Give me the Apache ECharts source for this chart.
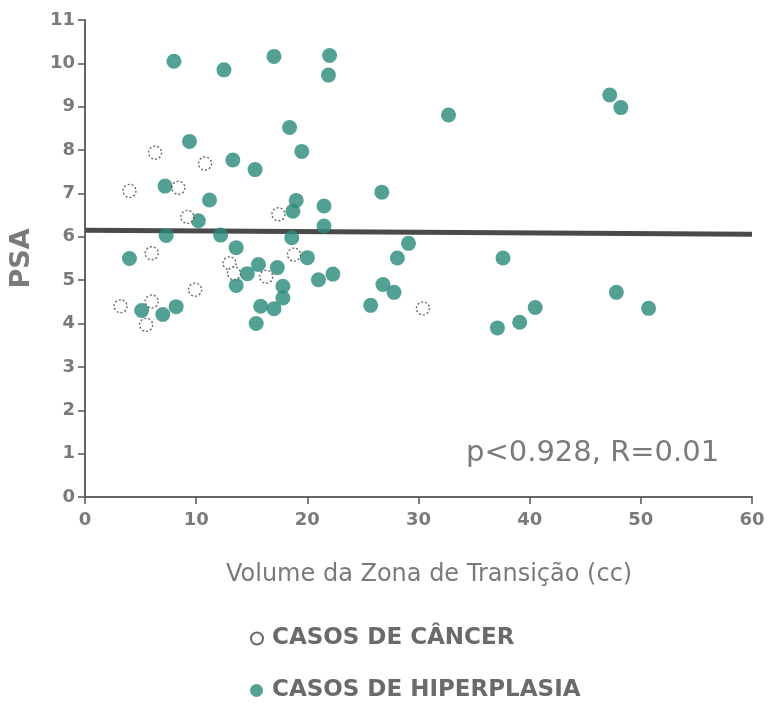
<!DOCTYPE html>
<html><head><meta charset="utf-8">
<script src="https://cdn.jsdelivr.net/npm/echarts@6/dist/echarts.min.js"></script>
<style>html,body{margin:0;padding:0;background:#fff}#c{width:770px;height:707px}</style>
</head><body><div id="c"></div>
<script>
// Hiperplasia (filled) : [volume cc, PSA]
const hiperplasiaX = [8.0,12.5,17.0,22.0,21.9,32.7,47.2,48.2,9.4,18.4,19.5,13.3,15.3,7.2,11.2,26.7,19.0,18.7,21.5,10.2,7.3,12.2,18.6,21.5,29.1,4.0,13.6,20.0,15.6,17.3,14.6,13.6,17.8,17.8,21.0,22.3,28.1,37.6,26.8,27.8,25.7,15.8,17.0,15.4,5.1,7.0,8.2,37.1,39.1,40.5,47.8,50.7];
const hiperplasiaY = [10.05,9.85,10.16,10.18,9.73,8.81,9.27,8.98,8.20,8.52,7.97,7.77,7.55,7.17,6.85,7.03,6.84,6.59,6.71,6.37,6.03,6.04,5.98,6.25,5.85,5.50,5.75,5.52,5.36,5.29,5.15,4.88,4.86,4.59,5.01,5.14,5.51,5.51,4.90,4.72,4.42,4.40,4.34,4.00,4.30,4.21,4.39,3.90,4.03,4.37,4.72,4.35];
// Câncer (hollow)
const cancerX = [6.3,10.8,4.0,8.4,9.2,17.4,6.0,18.8,13.0,13.4,16.3,9.9,3.2,6.0,5.5,30.4];
const cancerY = [7.94,7.69,7.06,7.13,6.46,6.52,5.62,5.59,5.39,5.16,5.08,4.78,4.40,4.51,3.97,4.35];
// Regression line endpoints
const regX = [0, 60];
const regY = [6.15, 6.06];
const xTicks = [0,10,20,30,40,50,60];
const yTicks = [0,1,2,3,4,5,6,7,8,9,10,11];

const zip = (a,b)=>a.map((v,i)=>[v,b[i]]);
const font = '"DejaVu Sans", Verdana, sans-serif';
const gray = '#7a7a7a';
const legendText = {color:'#6a6a6a',fontFamily:font,fontSize:23,fontWeight:'bold',padding:[0,0,0,4]};
const chart = echarts.init(document.getElementById('c'));
chart.setOption({
  animation:false,
  backgroundColor:'#fff',
  grid:{left:85,right:18,top:20,bottom:210},
  xAxis:{type:'value',min:xTicks[0],max:xTicks[xTicks.length-1],interval:10,
    axisLine:{lineStyle:{color:'#666',width:2}},
    axisTick:{show:true,length:7,lineStyle:{color:'#555',width:1.5}},
    axisLabel:{color:gray,fontFamily:font,fontSize:18,fontWeight:'bold',margin:14},
    splitLine:{show:false}},
  yAxis:{type:'value',min:yTicks[0],max:yTicks[yTicks.length-1],interval:1,
    name:'PSA',nameLocation:'middle',nameGap:50,
    nameTextStyle:{color:gray,fontFamily:font,fontSize:27,fontWeight:'bold'},
    axisLine:{show:true,lineStyle:{color:'#666',width:2}},
    axisTick:{show:true,length:7,lineStyle:{color:'#555',width:1.5}},
    axisLabel:{color:gray,fontFamily:font,fontSize:18,fontWeight:'bold',margin:10},
    splitLine:{show:false}},
  legend:[
    {left:245,top:622,itemWidth:12,itemHeight:12,data:['CASOS DE CÂNCER'],textStyle:legendText},
    {left:245,top:674,itemWidth:13,itemHeight:13,data:['CASOS DE HIPERPLASIA'],textStyle:legendText}
  ],
  graphic:[
    {type:'text',left:226,top:563,style:{text:'Volume da Zona de Transição (cc)',fill:gray,font:'24px '+font}},
    {type:'text',left:466,top:439,style:{text:'p<0.928, R=0.01',fill:gray,font:'29px '+font}}
  ],
  series:[
    {name:'regressão',type:'line',data:zip(regX,regY),symbol:'none',
     lineStyle:{color:'#4a4a4a',width:5},z:1,silent:true},
    {name:'CASOS DE CÂNCER',type:'scatter',data:zip(cancerX,cancerY),symbol:'circle',symbolSize:13,
     itemStyle:{color:'#fff',borderColor:'#444',borderWidth:1.4,borderType:[2,2]},z:3},
    {name:'CASOS DE HIPERPLASIA',type:'scatter',data:zip(hiperplasiaX,hiperplasiaY),symbol:'circle',symbolSize:15,
     itemStyle:{color:'#288a79'},z:2}
  ]
});
</script></body></html>
